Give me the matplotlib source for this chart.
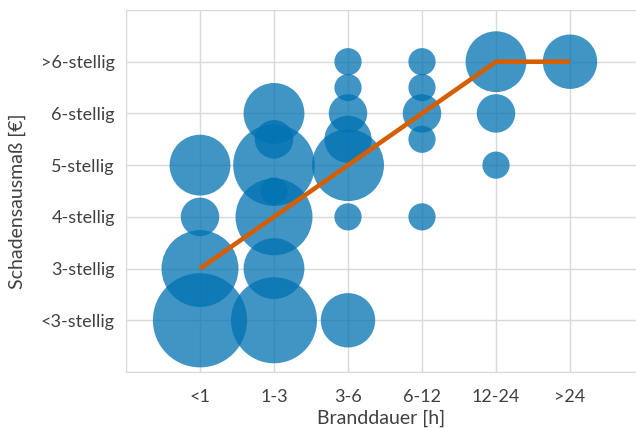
import numpy as np
import matplotlib
matplotlib.use("Agg")
import matplotlib.pyplot as plt

plt.rcParams['font.family'] = ['Lato', 'DejaVu Sans']

# Categories
dauer_labels = ['<1', '1-3', '3-6', '6-12', '12-24', '>24']
schaden_labels = ['<3-stellig', '3-stellig', '4-stellig', '5-stellig', '6-stellig', '>6-stellig']

# Bubbles: x = Branddauer class (1..6), y = Schaden class (1..6), n = Anzahl
bub_x = [1, 1, 1, 1,
         2, 2, 2, 2, 2, 2, 2,
         3, 3, 3, 3, 3, 3, 3,
         4, 4, 4, 4, 4,
         5, 5, 5,
         6]
bub_y = [1, 2, 3, 4,
         1, 2, 3, 3.5, 4, 4.5, 5,
         1, 3, 4, 4.5, 5, 5.5, 6,
         3, 4.5, 5, 5.5, 6,
         4, 5, 6,
         6]
bub_n = [12, 8, 2, 5,
         10, 5, 8, 1, 9, 2, 5,
         4, 1, 7, 3, 2, 1, 1,
         1, 1, 2, 1, 1,
         1, 2, 5,
         4]

# Median line
med_x = [1, 2, 3, 4, 5, 6]
med_y = [2, 3, 4, 5, 6, 6]

W, H, DPI = 636, 428, 100
fig = plt.figure(figsize=(W / DPI, H / DPI), dpi=DPI)
ax = fig.add_axes([126 / W, 1 - 372 / H, (W - 126) / W, (372 - 10) / H])

# radius in px ~ 13.6 * sqrt(n); s is area in pt^2
r_px = 13.6 * np.sqrt(np.array(bub_n))
s = (2 * r_px * 72 / DPI) ** 2
ax.scatter(bub_x, bub_y, s=s, color='#0072B2', alpha=0.75, linewidths=0, zorder=3)
ax.plot(med_x, med_y, color='#D55E00', lw=3.3, zorder=4, solid_capstyle='butt')

ax.set_xlim(0, (W - 200) / 74 + 1)
ax.set_ylim(0, 7)
ax.set_xticks(range(0, 7))
ax.set_xticklabels([''] + dauer_labels)
ax.set_yticks(range(0, 8))
ax.set_yticklabels([''] + schaden_labels + [''])
ax.grid(True, color='#d9d9d9', lw=1)
ax.set_axisbelow(True)
for side in ['top', 'right']:
    ax.spines[side].set_visible(False)
for side in ['left', 'bottom']:
    ax.spines[side].set_color('#d9d9d9')
ax.tick_params(length=0, labelsize=13, colors='#404040', pad=8)
ax.tick_params(axis='x', pad=12.5)
ax.set_xlabel('Branddauer [h]', fontsize=14, color='#404040', labelpad=3)
ax.set_ylabel('Schadensausmaß [€]', fontsize=14, color='#404040')
ax.yaxis.set_label_coords(-100 / (W - 126), (372 - 201) / (372 - 10))

fig.savefig('out.png', dpi=DPI)
